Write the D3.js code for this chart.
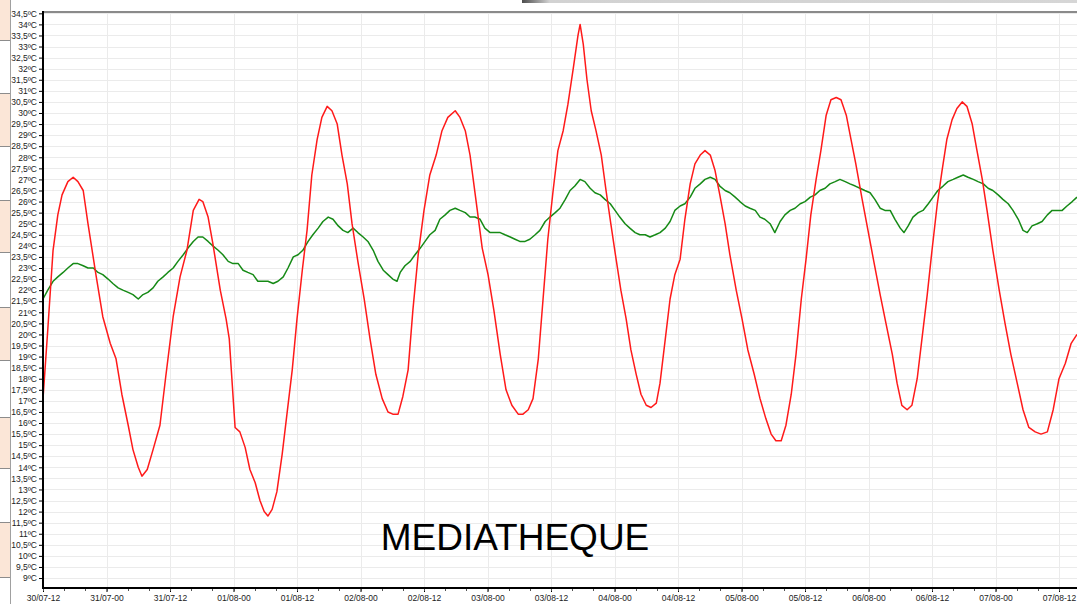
<!DOCTYPE html>
<html>
<head>
<meta charset="utf-8">
<script src="https://cdn.jsdelivr.net/npm/d3@7"></script>
<style>
  html, body { margin: 0; padding: 0; background: #fff; overflow: hidden; }
</style>
</head>
<body>
<div id="chart"></div>
<script>
// Recording starts 30/07/2012 at 12h.
const startTime = new Date(2012, 6, 30, 12);
const spanHours = 195.4;

const chartTitle = 'MEDIATHEQUE';

// Red probe: hours since start / temperature.
const redHours = [
  0.0, 0.9, 1.9, 2.8, 3.6, 4.7, 5.7, 6.6, 7.6, 8.5, 10.0, 11.3, 12.7, 13.8, 14.9, 16.1, 17.0, 18.0, 18.7, 19.7,
  20.8, 22.1, 23.2, 24.6, 25.9, 27.2, 28.4, 29.5, 30.2, 31.2, 32.1, 33.5, 34.6, 35.2, 36.3, 37.2, 38.2, 39.1, 40.1, 41.0,
  41.8, 42.5, 43.3, 44.2, 45.2, 46.1, 47.1, 48.0, 49.0, 49.9, 50.8, 51.8, 52.7, 53.7, 54.6, 55.6, 56.5, 57.5, 58.4, 59.5,
  60.7, 61.8, 62.9, 64.1, 65.2, 66.1, 67.1, 68.0, 69.0, 69.9, 70.9, 72.0, 73.1, 74.3, 75.4, 76.5, 77.9, 78.8, 79.8, 80.7,
  81.8, 83.0, 84.1, 85.2, 86.4, 87.5, 88.6, 89.8, 90.7, 91.7, 92.6, 93.6, 94.5, 95.4, 96.4, 97.3, 98.3, 99.2, 100.2, 101.1,
  101.5, 102.1, 102.8, 103.6, 104.5, 105.5, 106.4, 107.3, 108.3, 109.2, 110.2, 111.1, 112.1, 113.0, 114.0, 114.9, 115.9, 116.6, 117.6, 118.5,
  119.4, 120.4, 121.3, 122.3, 123.2, 124.2, 125.1, 126.1, 127.0, 127.9, 128.9, 129.8, 131.0, 132.1, 133.2, 134.4, 135.5, 136.6, 137.6, 138.5,
  139.5, 140.4, 141.4, 142.3, 143.3, 144.2, 145.1, 146.1, 147.0, 148.0, 148.9, 149.9, 150.8, 151.8, 152.7, 153.6, 154.8, 155.9, 157.0, 158.2,
  159.3, 160.5, 161.4, 162.3, 163.3, 164.2, 165.2, 166.1, 167.1, 168.0, 169.0, 169.9, 170.8, 171.8, 172.7, 173.7, 174.6, 175.6, 176.5, 177.5,
  178.4, 179.5, 180.7, 181.8, 182.9, 184.1, 185.2, 186.3, 187.5, 188.6, 189.8, 190.9, 192.0, 193.2, 194.3, 195.4
];
const redTemps = [
  17.1, 20.2, 23.8, 25.4, 26.3, 26.9, 27.1, 26.9, 26.5, 25.0, 22.7, 20.8, 19.6, 18.9, 17.3, 15.9, 14.8, 14.0, 13.6, 13.9,
  14.8, 15.9, 18.1, 20.8, 22.6, 23.8, 25.6, 26.1, 26.0, 25.3, 24.1, 22.0, 20.7, 19.8, 15.8, 15.6, 14.9, 13.9, 13.3, 12.5,
  12.0, 11.8, 12.1, 12.9, 14.6, 16.4, 18.4, 20.7, 22.9, 24.7, 27.2, 28.8, 29.8, 30.3, 30.1, 29.5, 28.1, 26.8, 25.0, 23.3,
  21.6, 19.8, 18.2, 17.1, 16.5, 16.4, 16.4, 17.2, 18.4, 21.1, 23.6, 25.6, 27.2, 28.1, 29.2, 29.8, 30.1, 29.8, 29.2, 28.1,
  26.1, 23.9, 22.7, 21.1, 19.1, 17.5, 16.8, 16.4, 16.4, 16.6, 17.1, 18.9, 21.6, 24.3, 26.5, 28.3, 29.2, 30.4, 32.0, 33.5,
  34.0, 33.1, 31.5, 30.1, 29.2, 28.1, 26.5, 25.0, 23.4, 22.0, 20.7, 19.3, 18.2, 17.3, 16.8, 16.7, 16.9, 17.8, 19.8, 21.6,
  22.7, 23.4, 25.2, 26.8, 27.7, 28.1, 28.3, 28.1, 27.4, 26.3, 25.0, 23.6, 22.0, 20.7, 19.3, 18.2, 17.1, 16.2, 15.5, 15.2,
  15.2, 15.9, 17.3, 19.1, 21.6, 23.4, 25.4, 27.0, 28.3, 29.9, 30.6, 30.7, 30.6, 29.9, 28.8, 27.7, 26.1, 24.7, 23.3, 21.8,
  20.5, 19.1, 17.8, 16.8, 16.6, 16.8, 18.0, 19.8, 21.8, 23.8, 25.9, 27.4, 28.8, 29.7, 30.2, 30.5, 30.3, 29.5, 28.3, 27.0,
  25.6, 23.8, 22.0, 20.5, 19.1, 17.8, 16.6, 15.8, 15.6, 15.5, 15.6, 16.6, 18.0, 18.7, 19.6, 20.0
];

// Green probe: hours since start / temperature.
const greenHours = [
  0.0, 0.9, 1.9, 2.8, 3.8, 4.7, 5.7, 6.6, 7.6, 8.5, 9.5, 10.4, 11.3, 12.3, 13.2, 14.2, 15.1, 16.1, 17.0, 18.0,
  18.9, 19.8, 20.8, 21.7, 22.7, 23.6, 24.6, 25.5, 26.5, 27.4, 28.4, 29.3, 30.2, 31.2, 32.1, 33.1, 34.0, 35.0, 35.9, 36.9,
  37.8, 38.7, 39.7, 40.6, 41.6, 42.5, 43.5, 44.4, 45.4, 46.3, 47.3, 48.2, 49.1, 50.1, 51.0, 52.0, 52.9, 53.9, 54.8, 55.8,
  56.7, 57.6, 58.6, 59.5, 60.5, 61.4, 62.4, 63.3, 64.3, 65.2, 66.1, 66.9, 67.5, 68.4, 69.4, 70.3, 71.3, 72.2, 73.1, 74.1,
  75.0, 76.0, 76.9, 77.9, 78.8, 79.8, 80.7, 81.6, 82.6, 83.5, 84.5, 85.4, 86.4, 87.3, 88.3, 89.2, 90.1, 91.1, 92.0, 93.0,
  93.9, 94.9, 95.8, 96.8, 97.7, 98.7, 99.6, 100.5, 101.5, 102.4, 103.4, 104.3, 105.3, 106.2, 107.2, 108.1, 109.0, 110.0, 110.9, 111.9,
  112.8, 113.8, 114.7, 115.7, 116.6, 117.6, 118.5, 119.4, 120.4, 121.3, 122.3, 123.2, 124.2, 125.1, 126.1, 127.0, 127.9, 128.9, 129.8, 130.8,
  131.7, 132.7, 133.6, 134.6, 135.5, 136.4, 137.4, 138.3, 139.3, 140.2, 141.2, 142.1, 143.1, 144.0, 145.0, 145.9, 146.8, 147.8, 148.7, 149.7,
  150.6, 151.6, 152.5, 153.5, 154.4, 155.3, 156.3, 157.2, 158.2, 159.1, 160.1, 161.0, 162.0, 162.7, 163.5, 164.4, 165.4, 166.3, 167.3, 168.2,
  169.1, 170.1, 171.0, 172.0, 172.9, 173.9, 174.8, 175.8, 176.7, 177.7, 178.6, 179.5, 180.5, 181.4, 182.4, 183.3, 184.3, 185.2, 186.0, 186.9,
  187.9, 188.8, 189.8, 190.7, 191.6, 192.6, 193.5, 194.5, 195.4
];
const greenTemps = [
  21.6, 22.0, 22.4, 22.6, 22.8, 23.0, 23.2, 23.2, 23.1, 23.0, 23.0, 22.8, 22.7, 22.5, 22.3, 22.1, 22.0, 21.9, 21.8, 21.6,
  21.8, 21.9, 22.1, 22.4, 22.6, 22.8, 23.0, 23.3, 23.6, 23.9, 24.2, 24.4, 24.4, 24.2, 24.0, 23.8, 23.6, 23.3, 23.2, 23.2,
  22.9, 22.8, 22.7, 22.4, 22.4, 22.4, 22.3, 22.4, 22.6, 23.0, 23.5, 23.6, 23.8, 24.2, 24.5, 24.8, 25.1, 25.3, 25.2, 24.9,
  24.7, 24.6, 24.8, 24.6, 24.4, 24.2, 23.8, 23.3, 22.9, 22.7, 22.5, 22.4, 22.8, 23.1, 23.3, 23.6, 23.9, 24.2, 24.5, 24.7,
  25.2, 25.4, 25.6, 25.7, 25.6, 25.5, 25.3, 25.3, 25.2, 24.8, 24.6, 24.6, 24.6, 24.5, 24.4, 24.3, 24.2, 24.2, 24.3, 24.5,
  24.7, 25.1, 25.3, 25.5, 25.7, 26.1, 26.5, 26.7, 27.0, 26.9, 26.6, 26.4, 26.3, 26.1, 25.9, 25.6, 25.3, 25.0, 24.8, 24.6,
  24.5, 24.5, 24.4, 24.5, 24.6, 24.8, 25.1, 25.6, 25.8, 25.9, 26.2, 26.6, 26.8, 27.0, 27.1, 27.0, 26.7, 26.5, 26.4, 26.2,
  26.0, 25.8, 25.7, 25.6, 25.3, 25.2, 25.0, 24.6, 25.1, 25.4, 25.6, 25.7, 25.9, 26.0, 26.2, 26.3, 26.5, 26.6, 26.8, 26.9,
  27.0, 26.9, 26.8, 26.7, 26.6, 26.5, 26.4, 26.1, 25.7, 25.6, 25.6, 25.2, 24.8, 24.6, 24.9, 25.3, 25.5, 25.6, 25.9, 26.2,
  26.5, 26.7, 26.9, 27.0, 27.1, 27.2, 27.1, 27.0, 26.9, 26.8, 26.6, 26.5, 26.3, 26.1, 25.9, 25.6, 25.2, 24.7, 24.6, 24.9,
  25.0, 25.1, 25.4, 25.6, 25.6, 25.6, 25.8, 26.0, 26.2
];

// Y axis ticks, every half degree.
const tempTicks = d3.range(9, 34.51, 0.5);

const attrs = {
  svgWidth: 1077,
  svgHeight: 604,
  marginTop: 12,
  marginLeft: 43,
  marginBottom: 16,
  marginRight: 0,
  yMin: 8.55,
  yMax: 34.56,
  redColor: '#ff1a1a',
  greenColor: '#168a16',
  gridColor: '#ebebeb',
  font: '"Liberation Sans", Arial, sans-serif'
};

const calc = {};
calc.left = attrs.marginLeft;
calc.right = attrs.svgWidth - attrs.marginRight;
calc.top = attrs.marginTop;
calc.bottom = attrs.svgHeight - attrs.marginBottom;

const toPoints = (hours, temps) => hours.map((h, i) => ({
  t: new Date(startTime.getTime() + h * 3600e3),
  v: temps[i]
}));

const redPoints = toPoints(redHours, redTemps);
const greenPoints = toPoints(greenHours, greenTemps);

// Scales.
const xScale = d3.scaleTime()
  .domain([startTime, new Date(startTime.getTime() + spanHours * 3600e3)])
  .range([calc.left, calc.right]);

const yScale = d3.scaleLinear()
  .domain([attrs.yMin, attrs.yMax])
  .range([calc.bottom, calc.top]);

const majorTicks = xScale.ticks(d3.timeHour.every(12));
const minorTicks = xScale.ticks(d3.timeHour.every(4));

const svg = d3.select('#chart')
  .append('svg')
  .attr('width', attrs.svgWidth)
  .attr('height', attrs.svgHeight)
  .style('display', 'block')
  .style('font-family', attrs.font);

// Window chrome on the left edge.
const chrome = svg.append('g').attr('class', 'chrome');
const bandEdges = [0, 40, 93, 146, 200, 252, 307, 360, 417, 468, 522, 577];
bandEdges.slice(0, -1).forEach((y0, i) => {
  if (i % 2 === 0) {
    chrome.append('rect')
      .attr('x', 0).attr('y', y0)
      .attr('width', 10).attr('height', bandEdges[i + 1] - y0)
      .attr('fill', '#fbe6d7');
  }
});
chrome.selectAll('line.edge')
  .data(bandEdges.slice(1))
  .join('line')
  .attr('class', 'edge')
  .attr('x1', 0).attr('x2', 10)
  .attr('y1', d => d + 0.5).attr('y2', d => d + 0.5)
  .attr('stroke', '#8c8c8c');
chrome.append('line')
  .attr('x1', 10.5).attr('x2', 10.5)
  .attr('y1', 0).attr('y2', attrs.svgHeight)
  .attr('stroke', '#a0a0a0');

// Top bar.
const grad = svg.append('defs').append('linearGradient')
  .attr('id', 'topbar')
  .attr('x1', 0).attr('x2', 1);
grad.append('stop').attr('offset', '0%').attr('stop-color', '#4d4d4d');
grad.append('stop').attr('offset', '5%').attr('stop-color', '#d2d2d2');
grad.append('stop').attr('offset', '100%').attr('stop-color', '#d6d6d6');
svg.append('rect')
  .attr('x', 522).attr('y', 0)
  .attr('width', attrs.svgWidth - 522).attr('height', 3)
  .attr('fill', 'url(#topbar)');

// Grid.
const grid = svg.append('g').attr('class', 'grid');
grid.selectAll('line.h')
  .data(tempTicks)
  .join('line')
  .attr('class', 'h')
  .attr('x1', calc.left).attr('x2', calc.right)
  .attr('y1', d => Math.round(yScale(d)) + 0.5)
  .attr('y2', d => Math.round(yScale(d)) + 0.5)
  .attr('stroke', attrs.gridColor);
grid.selectAll('line.v')
  .data(majorTicks)
  .join('line')
  .attr('class', 'v')
  .attr('x1', d => Math.round(xScale(d)) + 0.5)
  .attr('x2', d => Math.round(xScale(d)) + 0.5)
  .attr('y1', calc.top).attr('y2', calc.bottom)
  .attr('stroke', attrs.gridColor);

// Top frame.
svg.append('line')
  .attr('x1', calc.left).attr('x2', calc.right)
  .attr('y1', calc.top).attr('y2', calc.top)
  .attr('stroke', '#8a8a8a')
  .attr('stroke-width', 2);

// Lines.
const line = d3.line()
  .x(d => xScale(d.t))
  .y(d => yScale(d.v));

svg.append('path')
  .datum(greenPoints)
  .attr('d', line)
  .attr('fill', 'none')
  .attr('stroke', attrs.greenColor)
  .attr('stroke-width', 1.5)
  .attr('stroke-linejoin', 'round');

svg.append('path')
  .datum(redPoints)
  .attr('d', line)
  .attr('fill', 'none')
  .attr('stroke', attrs.redColor)
  .attr('stroke-width', 1.5)
  .attr('stroke-linejoin', 'round');

// Y axis.
const fmtTemp = d => d3.format('.1f')(d).replace('.0', '').replace('.', ',') + '\u00baC';
const yAxis = d3.axisLeft(yScale)
  .tickValues(tempTicks)
  .tickSize(4)
  .tickPadding(2)
  .tickFormat(fmtTemp);

const yAxisG = svg.append('g')
  .attr('transform', 'translate(' + calc.left + ',0)')
  .call(yAxis);
yAxisG.select('.domain').remove();
yAxisG.selectAll('text')
  .attr('font-size', 8.5)
  .attr('fill', '#222')
  .attr('font-family', attrs.font);
yAxisG.selectAll('line').attr('stroke', '#000');

svg.append('line')
  .attr('x1', calc.left).attr('x2', calc.left)
  .attr('y1', calc.top - 1).attr('y2', calc.bottom + 1)
  .attr('stroke', '#000')
  .attr('stroke-width', 2);

// X axis.
const xAxis = d3.axisBottom(xScale)
  .tickValues(majorTicks)
  .tickSize(4)
  .tickPadding(3)
  .tickFormat(d3.timeFormat('%d/%m-%H'));

const xAxisG = svg.append('g')
  .attr('transform', 'translate(0,' + calc.bottom + ')')
  .call(xAxis);
xAxisG.select('.domain').remove();
xAxisG.selectAll('text')
  .attr('font-size', 8.5)
  .attr('fill', '#222')
  .attr('font-family', attrs.font);
xAxisG.selectAll('line').attr('stroke', '#000');

svg.append('g')
  .selectAll('line')
  .data(minorTicks)
  .join('line')
  .attr('x1', d => Math.round(xScale(d)) + 0.5)
  .attr('x2', d => Math.round(xScale(d)) + 0.5)
  .attr('y1', calc.bottom).attr('y2', calc.bottom + 3)
  .attr('stroke', '#555');

svg.append('line')
  .attr('x1', calc.left - 1).attr('x2', calc.right)
  .attr('y1', calc.bottom).attr('y2', calc.bottom)
  .attr('stroke', '#000')
  .attr('stroke-width', 2);

// Title.
svg.append('text')
  .attr('x', 515)
  .attr('y', 550)
  .attr('text-anchor', 'middle')
  .attr('font-family', 'Arial, "Liberation Sans", sans-serif')
  .attr('font-size', 37)
  .attr('fill', '#000')
  .text(chartTitle);
</script>
</body>
</html>
